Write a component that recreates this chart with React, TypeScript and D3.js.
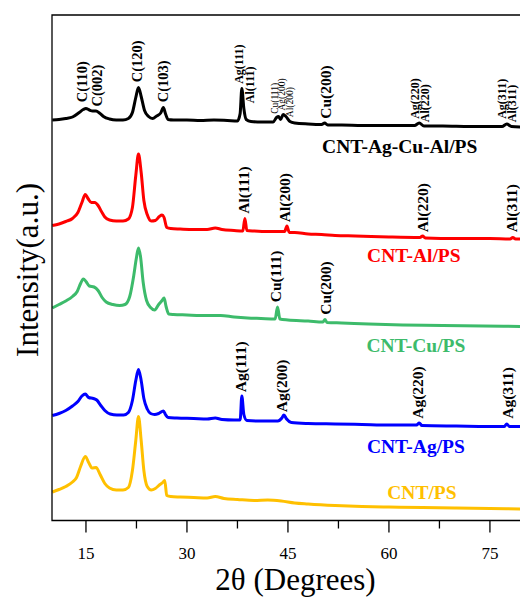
import React from "react";
import * as d3 from "d3";

// XRD patterns: [2θ (deg), intensity (a.u., offset per sample)]
const cntAgCuAl: [number, number][] = [
  [10, 400.5], [11, 401], [12, 402], [13, 403.5], [14, 408], [14.6, 411], [15, 412], [15.5, 410.5],
  [16, 409.5], [16.5, 409.5], [17, 407.5], [17.6, 404], [18.5, 401.5], [19.5, 400.5], [20.5, 400.5],
  [21.3, 402], [21.9, 408], [22.4, 423], [22.8, 433], [23.2, 424], [23.7, 410], [24.3, 404],
  [24.9, 402], [25.5, 404.5], [26.1, 407.5], [26.5, 413], [26.8, 407], [27.2, 401], [28, 400.5],
  [30, 400.5], [32, 400], [34, 400.5], [36, 400], [37.5, 399.5], [37.9, 407], [38.15, 432],
  [38.45, 412], [38.8, 401], [39.5, 399], [41, 398.5], [42.8, 398.5], [43.3, 403], [43.6, 404],
  [43.9, 401], [44.3, 406], [44.7, 404], [45.3, 399], [46, 397.5], [48, 396.5], [50, 396],
  [50.45, 397.5], [50.9, 395.5], [53, 395.5], [56, 395], [60, 395], [63.8, 395], [64.5, 397.5],
  [65.2, 394.5], [68, 394.5], [72, 394], [76.8, 394], [77.5, 396.5], [78.2, 394], [80, 393.5],
];

const cntAl: [number, number][] = [
  [10, 295], [11, 296.5], [12, 299], [13, 302], [13.8, 308], [14.4, 318], [14.9, 326], [15.3, 322],
  [15.8, 318], [16.3, 318], [16.8, 315], [17.3, 309], [17.8, 303.5], [18.5, 300.5], [19.5, 299.5],
  [20.5, 299.5], [21.3, 301.5], [21.9, 313], [22.4, 345], [22.8, 366.5], [23.2, 348], [23.6, 320],
  [24.1, 306], [24.7, 299.5], [25.3, 300], [25.9, 304], [26.3, 305.5], [26.6, 303], [27, 293],
  [27.6, 292], [29, 291.5], [31, 291], [33, 291], [34.2, 292.5], [35.2, 291], [37, 290],
  [38.3, 289.5], [38.6, 302], [38.9, 290], [40, 289.5], [42, 289], [44.5, 289], [44.85, 294.5],
  [45.2, 288], [46, 288], [48, 286.5], [50, 286], [52, 285], [55, 284.5], [60, 283.5], [64.6, 283],
  [65, 284.5], [65.4, 282.5], [70, 282], [75, 282], [78, 281.5], [78.4, 283], [78.8, 281.5], [80, 281.5],
];

const cntCu: [number, number][] = [
  [10, 212.5], [11, 216], [12, 219.5], [13, 224], [13.7, 229], [14.2, 237], [14.6, 241.5], [15, 239],
  [15.5, 234.5], [16.2, 233.5], [16.8, 230], [17.4, 223], [18, 218.5], [19, 216], [20, 215],
  [20.8, 216], [21.5, 224], [22.1, 245], [22.5, 263], [22.8, 272.5], [23.1, 264], [23.5, 238],
  [24, 220], [24.6, 213], [25.2, 210.5], [25.8, 216], [26.3, 220], [26.6, 222.5], [26.9, 214],
  [27.3, 206.5], [28, 206], [30, 205.5], [32, 205], [35, 205], [37, 203.5], [39, 202.5], [41, 202],
  [43.1, 201.5], [43.45, 213.5], [43.8, 201.5], [45, 200.5], [48, 199.5], [50.2, 198.5], [50.5, 201],
  [50.8, 198], [53, 197.5], [57, 196.5], [62, 195.5], [68, 195], [74, 194.5], [80, 194],
];

const cntAg: [number, number][] = [
  [10, 105], [11, 107], [12, 110], [13, 114.5], [13.8, 119], [14.4, 124.5], [14.9, 126.5], [15.4, 123],
  [16.1, 122], [16.6, 120.5], [17.2, 115], [17.8, 110], [18.6, 106.5], [19.6, 105.5], [20.6, 105.5],
  [21.3, 108], [21.9, 120], [22.4, 140], [22.8, 151], [23.2, 140], [23.6, 122], [24.1, 111.5],
  [24.6, 107], [25.2, 106], [25.8, 107], [26.5, 109.5], [26.8, 106], [27.2, 103], [28.5, 102.5],
  [31, 102], [33, 101.5], [34.2, 102.5], [35.2, 101], [37, 100.5], [37.9, 100.5], [38.15, 124.5],
  [38.45, 106], [38.9, 100], [40.5, 99.5], [43.5, 99.5], [44.1, 102.5], [44.4, 105.5], [44.8, 101.5],
  [45.5, 98], [48, 97], [52, 96.5], [56, 96], [60, 95.5], [64.1, 95.5], [64.5, 97.5], [64.9, 95],
  [70, 94.5], [77.1, 94], [77.5, 96.5], [77.9, 94], [80, 94],
];

const cnt: [number, number][] = [
  [10, 28.5], [11, 31], [12, 34], [13, 38.5], [13.6, 43], [14.2, 54], [14.9, 64], [15.4, 58],
  [15.9, 52.5], [16.5, 53], [17.1, 46], [17.8, 37], [18.5, 32.5], [19.5, 30.5], [20.5, 30.5],
  [21.3, 33], [21.9, 50], [22.4, 80], [22.8, 104], [23.2, 80], [23.6, 50], [24.1, 34], [24.7, 30.5],
  [25.3, 32], [25.9, 35.5], [26.4, 38], [26.7, 40], [27, 25], [27.6, 24], [29, 23.5], [31, 23],
  [33, 22.5], [34.2, 24], [35.5, 22], [37.5, 21], [40, 20], [42, 20.5], [44, 19.5], [46, 17.5],
  [48, 16.5], [52, 15], [56, 14], [60, 13.5], [65, 13], [70, 12.5], [75, 12], [80, 11.5],
];

const seriesNames = ["CNT-Ag-Cu-Al/PS", "CNT-Al/PS", "CNT-Cu/PS", "CNT-Ag/PS", "CNT/PS"];
const seriesColors = ["#000000", "#ff0000", "#3dbb6b", "#0000ff", "#ffc000"];
const seriesData = [cntAgCuAl, cntAl, cntCu, cntAg, cnt];
// name label anchor: [2θ, intensity]
const nameAnchors: [number, number][] = [[61.6, 367.5], [63.7, 259], [64.0, 169], [64.0, 68], [64.9, 22]];

// reflection labels: [text, 2θ, intensity at label foot, series index, size class]
const peakLabels: [string, number, number, number, string][] = [
  ["C(110)", 14.46, 418.3, 0, "c"],
  ["C(002)", 16.6, 414, 0, "c"],
  ["C(120)", 22.65, 438.3, 0, "c"],
  ["C(103)", 26.5, 418.3, 0, "c"],
  ["Ag(111)", 37.7, 436.7, 0, "m"],
  ["Al(111)", 39.36, 417.3, 0, "m"],
  ["Cu(111)", 43.07, 406.7, 0, "s"],
  ["Ag(200)", 44.1, 410, 0, "s"],
  ["Al(200)", 45.27, 403.3, 0, "s"],
  ["Cu(200)", 50.6, 401.7, 0, "l"],
  ["Ag(220)", 63.8, 401.7, 0, "m"],
  ["Al(220)", 65.3, 398.3, 0, "m"],
  ["Ag(311)", 76.8, 401.7, 0, "m"],
  ["Al(311)", 78.3, 398.3, 0, "m"],
  ["Al(111)", 38.37, 306.7, 1, "l"],
  ["Al(200)", 44.56, 298.3, 1, "l"],
  ["Al(220)", 64.98, 288.3, 1, "l"],
  ["Al(311)", 78.2, 288.3, 1, "l"],
  ["Cu(111)", 43.1, 218.3, 2, "l"],
  ["Cu(200)", 50.57, 205.7, 2, "l"],
  ["Ag(111)", 37.95, 128.3, 3, "l"],
  ["Ag(200)", 44.07, 108.3, 3, "l"],
  ["Ag(220)", 64.3, 101.7, 3, "l"],
  ["Ag(311)", 77.6, 101.7, 3, "l"],
];

const majorTicks = [15, 30, 45, 60, 75];
const minorTicks = [22.5, 37.5, 52.5, 67.5];

const W = 520;
const H = 597;
const FONT = "'Liberation Serif', 'Times New Roman', serif";

export default function App() {
  const x = d3.scaleLinear().domain([10, 80]).range([52.3, 523.6]);
  const y = d3.scaleLinear().domain([0, 505]).range([520.5, 15.5]);
  const line = d3
    .line<[number, number]>()
    .x((d) => x(d[0]))
    .y((d) => y(d[1]))
    .curve(d3.curveMonotoneX);

  const sizes: Record<string, number> = { c: 14.5, m: 12, s: 9.5, l: 15.5 };

  return (
    <svg
      width={W}
      height={H}
      style={{ position: "absolute", left: 0, top: 0, background: "#fff" }}
      fontFamily={FONT}
    >
      <defs>
        <clipPath id="plot">
          <rect x={52} y={15} width={W - 52} height={506} />
        </clipPath>
      </defs>
      <g clipPath="url(#plot)">
        {seriesData.map((s, i) => (
          <path
            key={seriesNames[i]}
            d={line(s) ?? ""}
            fill="none"
            stroke={seriesColors[i]}
            strokeWidth={3}
            strokeLinejoin="round"
          />
        ))}
      </g>

      {peakLabels.map(([t, a, v, , sc], i) => (
        <text
          key={i}
          transform={`translate(${x(a)},${y(v)}) rotate(-90)`}
          fontSize={sizes[sc]}
          fontWeight={sc === "s" ? "normal" : "bold"}
          dominantBaseline="central"
          fill="#000"
        >
          {t}
        </text>
      ))}

      {seriesNames.map((n, i) => (
        <text
          key={n}
          x={x(nameAnchors[i][0])}
          y={y(nameAnchors[i][1])}
          textAnchor="middle"
          fontSize={19.5}
          fontWeight="bold"
          fill={seriesColors[i]}
        >
          {n}
        </text>
      ))}

      {/* frame */}
      <path
        d={`M${W + 2},15 H52 V520.5 H${W + 2}`}
        fill="none"
        stroke="#000"
        strokeWidth={1.3}
      />

      {majorTicks.map((t) => (
        <g key={t}>
          <line x1={x(t)} x2={x(t)} y1={520.5} y2={532.5} stroke="#000" strokeWidth={1.3} />
          <text x={x(t)} y={559} textAnchor="middle" fontSize={17} fill="#000">
            {t}
          </text>
        </g>
      ))}
      {minorTicks.map((t) => (
        <line key={t} x1={x(t)} x2={x(t)} y1={520.5} y2={528.5} stroke="#000" strokeWidth={1.3} />
      ))}

      <text x={295.5} y={590} textAnchor="middle" fontSize={31} fill="#000">
        2θ (Degrees)
      </text>
      <text
        transform="translate(38,270) rotate(-90)"
        textAnchor="middle"
        fontSize={31}
        fill="#000"
      >
        Intensity(a.u.)
      </text>
    </svg>
  );
}
